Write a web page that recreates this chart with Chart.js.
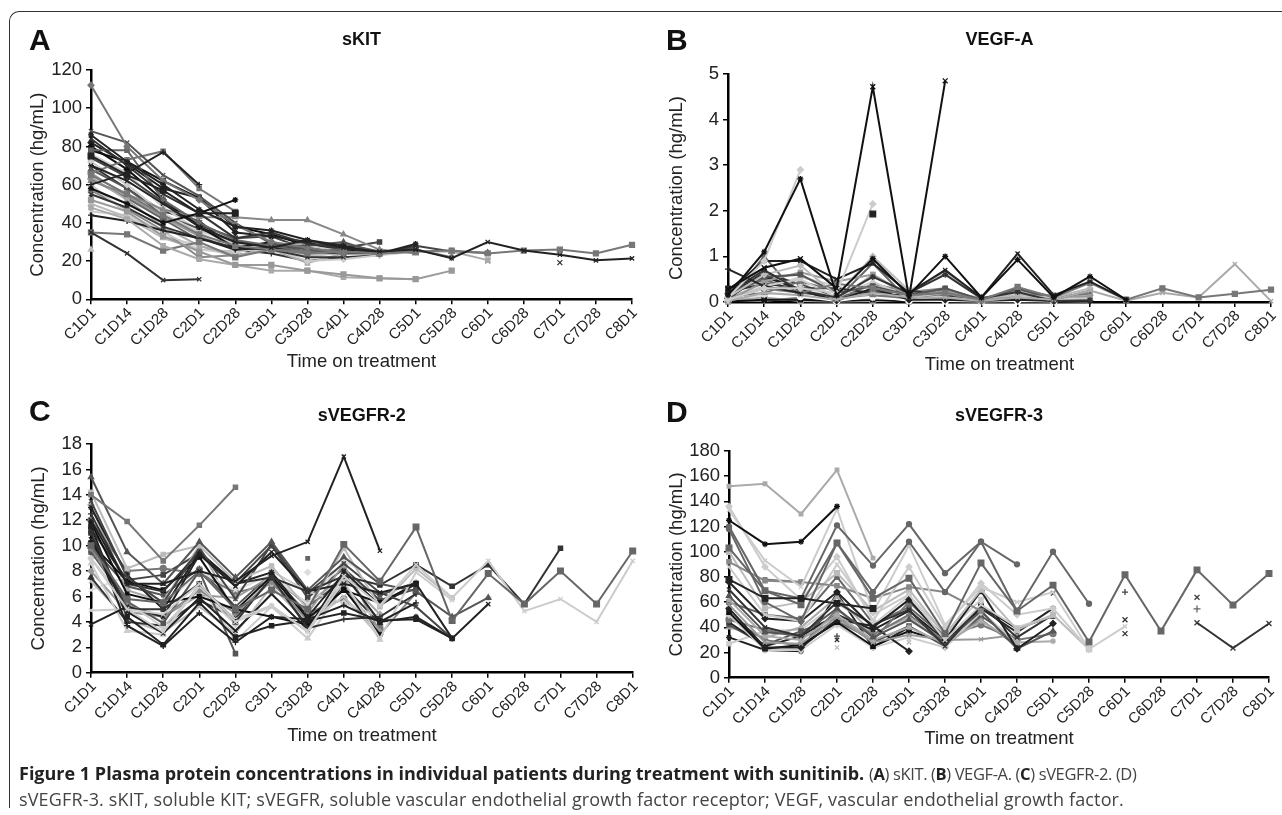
<!DOCTYPE html>
<html><head><meta charset="utf-8">
<style>
html,body{margin:0;padding:0;background:#fff;width:1282px;height:815px;overflow:hidden;position:relative;font-family:"Liberation Sans",Arial,sans-serif}
canvas{position:absolute;filter:blur(0.4px)}
#frame{position:absolute;left:9px;top:11px;width:1300px;height:797px;border-left:1.5px solid #333;border-top:1.5px solid #333;border-top-left-radius:10px;box-sizing:border-box}
.letter{position:absolute;font:bold 30px "Liberation Sans",Arial,sans-serif;color:#111;line-height:30px}
.cap{position:absolute;left:19px;white-space:nowrap;font-family:"Open Sans",sans-serif;color:#444;font-size:18px;line-height:20px;letter-spacing:0.15px}
.cap b{color:#222;letter-spacing:0}
.cap .nar{font-size:16.5px;letter-spacing:-0.37px}
.cap .nar b{letter-spacing:-0.37px}
</style>
<script src="https://cdn.jsdelivr.net/npm/chart.js@4"></script>
</head><body>
<div id="frame"></div>
<canvas id="ca" width="660" height="380" style="left:0;top:10px;width:660px;height:380px"></canvas>
<canvas id="cb" width="660" height="380" style="left:640px;top:10px;width:660px;height:380px"></canvas>
<canvas id="cc" width="660" height="375" style="left:0;top:390px;width:660px;height:375px"></canvas>
<canvas id="cd" width="660" height="375" style="left:640px;top:390px;width:660px;height:375px"></canvas>
<div class="letter" style="left:29px;top:25px">A</div>
<div class="letter" style="left:666px;top:25px">B</div>
<div class="letter" style="left:29px;top:396px">C</div>
<div class="letter" style="left:666px;top:397px">D</div>
<div class="cap" style="top:763px"><b>Figure 1 Plasma protein concentrations in individual patients during treatment with sunitinib.</b> <span class="nar">(<b>A</b>) sKIT. (<b>B</b>) VEGF-A. (<b>C</b>) sVEGFR-2. (D)</span></div>
<div class="cap" style="top:789px">sVEGFR-3. sKIT, soluble KIT; sVEGFR, soluble vascular endothelial growth factor receptor; VEGF, vascular endothelial growth factor.</div>
<script>
const categories=['C1D1','C1D14','C1D28','C2D1','C2D28','C3D1','C3D28','C4D1','C4D28','C5D1','C5D28','C6D1','C6D28','C7D1','C7D28','C8D1'];
const N=null;
// Panel A: sKIT
const a01=[112,80,62,52,39,30,27,24];
const a02=[88,82,65,54,40,29,26,24,24];
const a03=[35,24,10,10.5];
const a04=[35,34,25.5,30,22,26,25,25,24,25];
const a05=[78,78,52,40,31,28,25,26];
const a06=[60,66,77,60];
const a07=[66,73,77.5,58,46];
const a08=[75,65,57,45,45];
const a09=[58,50,40,45,52];
const a10=[44,41,36,32,26,27,25,24];
const a11=[62,55,47,43,43,41.5,41.5,34,26,24];
const a12=[70,62,50,38,30,27,31,27,25,26,21.5,30,25.5,23.3,20.4,21.4];
const a13=[65,55,44,34,28,26,24,25,24,25,25.5,24,25.5,26,24,28.5];
const a14=[52,46,33,25,18,18,15,13,11,10.5,15];
const a15=[48,42,28,21,18,15,15,11.5,11,10.5];
const a16=[86,72,60,47,38,36,31,28,24,29];
const a17=[84,70,55,45,32,35,29,27,24,28];
const a18=[80,68,52,38,27,30,24,26,24];
const a19=[26];
const a20=[55,48,38,32,27,26,22,22];
const a21=[72,60,45,35,25,27,20,21,23,25];
const a22=[64,52,38,28,23,26,19,24,25,25,25,20.5];
const a23=[68,58,44,37,30,28,28,30,24,27];
const a24=[60,45,35,26,24,30,28,25];
const a25=[82,71,58,53,35,33,30,24];
const a26=[74,64,51,39,32,33,26,27,30];
const a27=[57,47,36,22,23,26,30,27,25];
const a28=[50,43,32,26,25,28,23,24];
const a29=[46,44,33,28,22,28,22,25];
const a30=[76,66,48,36,29,27,25,24];
const a31=[63,53,42,31,30,27,27,29,25,26,22];
const a32=[70,58,46,41,26,24,20,22,23];
const a33=[66,54,43,33,26,28,27,24];
const a34=[N,N,N,N,N,N,N,N,N,N,N,20.2,N,19.2];
const a35=[N,N,N,N,N,N,N,N,N,28,25,24.3];
const a36=[78,72,62,53,38,34,28,27];
// Panel B: VEGF-A
const b01=[0.72,0.35,0.2];
const b02=[0.15,1.1,2.7,0.15,0.95,0.15,1.0,0.1,0.93,0.1,0.56,0.05];
const b03=[0.28,0.75,0.95,0.3,4.72,0.1,4.85];
const b04=[0.1,0.9,2.9];
const b05=[0.05,0.3,0.3,0.2,2.15];
const b06=[N,N,N,N,1.93];
const b07=[0.05,0.3,0.2,0.4,0.3,0.15,0.2,0.05,0.33,0.1,0.42,0.05,0.3,0.1,0.18,0.27];
const b08=[0.02,0.2,0.15,0.05,0.2,0.1,0.1,0.02,0.1,0.05,0.25,0.03,0.2,0.1,0.83,0.02];
const b09=[0.25,0.9,0.9,0.5,0.85,0.2,0.7,0.1,1.06,0.15,0.45,0.05];
const b10=[0.2,0.7,0.25,0.1,0.55,0.2,0.6,0.08,0.22,0.02,0.04];
const b11=[0.1,0.6,0.8,0.15,1.0,0.25,0.65,0.1,0.15,0.1,0.3];
const b12=[0.15,0.55,0.6,0.2,0.35,0.15,0.3,0.05,0.3,0.05,0.25];
const b13=[0.02,0.45,0.65,0.45,0.6,0.12,0.25,0.03,0.15,0.15,0.12];
const b14=[0.05,0.35,0.5,0.1,0.45,0.1,0.2,0.06,0.2,0.03,0.08];
const b15=[0.08,0.6,0.25,0.03,0.3,0.05,0.05,0.02,0.05,0.02,0.02];
const b16=[0.12,0.2,0.45,0.25,0.15,0.08,0.18,0.04,0.28,0.12,0.18];
const b17=[0.22,0.4,0.3,0.3,0.2,0.25,0.15,0.07,0.08,0.03];
const b18=[0.03,0.25,0.12,0.02,0.12,0.03,0.02,0.01,0.02,0.01];
const b19=[0.06,0.15,0.35,0.08,0.08,0.06,0.12,0.03,0.1];
const b20=[0.01,0.05,0.05,0.02,0.05,0.01,0.04,0.01,0.03,0.01];
const b21=[0.18,0.5,0.2,0.12,0.25,0.05,0.1,0.02,0.12];
const b22=[0.04,0.1,0.02,0.01,0.02,0.02,0.05,0.02];
const b23=[0.14,0.65,0.38,0.1,0.1,0.18,0.22,0.05];
const b24=[0.02,0.02,0.1,0.03,0.4,0.22,0.3,0.04,0.1,0.06];
const b25=[0.09,0.3,0.55,0.35,0.08,0.02,0.06,0.02,0.06,0.02,0.01];
const b26=[0.3,0.55,0.28,0.02,0.02,0.02,0.28];
const b27=[0.07,0.42,0.42,0.05,0.6,0.16,0.26,0.08,0.25,0.08,0.12];
const b28=[0.01,1.0,0.08,0.05,0.85,0.03];
// Panel C: sVEGFR-2
const c01=[14,11.9,8.8,11.6,14.6];
const c02=[12,7,7,8,7.2,9.2,10.3,17,9.6];
const c03=[10,5.8,5.5,8,5,6.5,5,10.1,7.2,11.46,4.1,7.8,5.4,8,5.4,9.58];
const c04=[9,5,4.6,7,4,5.2,3.3,7.6,5.3,8.5,5.9,8.8,4.85,5.8,4,8.8];
const c05=[11,5,5,7,4,7.5,6.4,7.6,6.9,8.5,6.8,8.5,5.4,9.8];
const c06=[3.8,5.2,4.4,9.3,6.8,9.5,6.4,7,6.3,7,2.7,5.4];
const c07=[4.9,5,3.2,6.8,4.2,5.3,3.2,7.2,2.7,7.9,5.7];
const c08=[15.4,9.5,7,10.3,7.5,10.3,6.5,9.1,7,6.4,4.4,5.9];
const c09=[14.2,8.2,9.3,10,7.2,8.4,5,9.8,5.2,8.2,5.9];
const c10=[13.5,7.5,5.5,9.8,5.8,10.1,6.3,8.6,6.3,5.2,2.7];
const c11=[13,7.7,5,9.5,7,7.9,4.4,7.8,4,4.4,2.7];
const c12=[12.5,7,6.4,9.5,7,7.5,3.5,4.2,4.4,6.2];
const c13=[11.8,6.2,5.5,6,5,4.4,3.8,6.6,3];
const c14=[11.5,4.4,2.2,5.5,2.8,3.7,4.1,4.7,4.1,4.2,2.7];
const c15=[11,3.7,2.1,4.7,2.4,4.4,4.2,5.3,4,5.5];
const c16=[10.5,4.8,3.1,5.9,3.3,6.2,3.4,8,5.3,7];
const c17=[10.2,7.2,6.5,9.1,4.9,7.6,4.3,6.5,5.5,7];
const c18=[9.8,5.3,4.4,6.5,4.7,7.2,4.1,7,3,6.3];
const c19=[9.5,5.6,3.9,8,1.5];
const c20=[9,5.5,3.6,6.6,3.8,8,6.4,5.5,4.4];
const c21=[8.6,3.3,3,7,2.5,5.2,2.7,6.8,2.6];
const c22=[8,4.8,4.4,6.1,5.9,7.6,4.7,8.5,3.2];
const c23=[7.5,4,3.7,5.7,4.3,7.4,3.6,6.8,3.9];
const c24=[7.2,4.2,3.2,5.2,3.1,6.8,3.9,6,2.8];
const c25=[6.5,7.6,5.2,8,6.5,7.7,5.4,8.8,7.2];
const c26=[12,8,8.2,7.8,6.3,7,4.7,5.8,3.5];
const c27=[13.2,6.5,5.6,10,4.6,7.3,5.5,7.5,4.6];
const c28=[N,N,N,N,N,N,9];
const c29=[N,N,N,N,N,N,7.9,N,N,N,N,5.9];
const c30=[10,6.8,6.1,8.2,5.2,7.8,5.2,7.3,6.1,7.1];
const c31=[11.3,7.3,7.7,9.4,7.1,10,5.9,8.2,5.7,6.6];
// Panel D: sVEGFR-3
const d01=[152,154,130,165,95];
const d02=[118,60,45,107,68,108,68,108,53,100,58.7];
const d03=[120,69,63,121,89,122,83,108,90];
const d04=[125,106,108,136];
const d05=[78,63,63,59,55];
const d06=[103,69,58,107,63,79,35,91,53,73.5,28.4,81.7,37,85.6,57.8,82.7];
const d07=[133,93,72,134,52,105,42,72,60,68,22.6,40.7];
const d08=[136,88,62,96,45,88,40,75,50,55,22.6];
const d09=[92,77,76,73,63,72,68,53];
const d10=[100,55,60,83,53,70,34,70,38,50,22.6];
const d11=[88,50,45,90,50,66,30,58,40,49];
const d12=[76,47,45,68,40,62,30,69,23,43];
const d13=[70,40,33,60,42,54,25,58,32,50];
const d14=[65,36,34,55,32,46,28,53,23,37];
const d15=[62,33,30,50,30,40,27,45,28,29];
const d16=[58,28,27,48,28,34,30,30.5,34];
const d17=[55,24,24,46,41,21];
const d18=[52,23,26,44,25,37,28,57,39,49];
const d19=[50,22,22,42,24,32,24,52,28];
const d20=[48,30,25,54,34,50,29,46,25];
const d21=[46,38,32,45,30,60,33,42,30,35];
const d22=[44,25,33,50,38,53,30,55,36,55];
const d23=[42,26,37,48,28,41,25,49,30];
const d24=[40,32,40,64,35,48,26,51];
const d25=[27,37,38,59,42,65,35,62];
const d26=[32,22,21,67,24,40];
const d27=[60,50,47,80,43,56,32,53,25];
const d28=[N,78,76];
const d29=[N,N,N,24,N,28];
const d30=[N,N,N,30,N,N,N,N,N,67];
const d31=[N,N,N,33,N,N,N,N,N,N,N,68];
const d32=[N,N,N,N,N,N,N,N,N,N,N,46,N,63.8];
const d33=[N,N,N,N,N,N,N,N,N,N,N,N,N,54.6];
const d34=[N,N,N,N,N,N,N,N,N,N,N,35,N,43.6,23.6,43];

const yTicksA=[0,20,40,60,80,100,120];
const yTicksB=[0,1,2,3,4,5];
const yTicksC=[0,2,4,6,8,10,12,14,16,18];
const yTicksD=[0,20,40,60,80,100,120,140,160,180];

const K={d:'rectRot',s:'rect',t:'triangle',x:'crossRot',p:'cross',a:'star',o:'circle'};
const tableA=[[a03,'#333','x'],[a08,'#222','s',4],[a09,'#111','a'],[a06,'#222','p'],[a12,'#222','x'],[a13,'#777','s',3.5],[a14,'#999','s',3.5],[a15,'#aaa','s',3],[a16,'#222','a'],[a17,'#333','x'],[a01,'#777','d'],[a02,'#555','x'],[a04,'#777','s',3.5],[a07,'#777','s'],[a05,'#666','s'],[a10,'#222','p'],[a11,'#888','t'],[a18,'#111','d'],[a19,'#bbb','t'],[a20,'#333','x'],[a21,'#ccc','d'],[a22,'#aaa','s'],[a23,'#555','t'],[a24,'#ccc','x'],[a25,'#222','d'],[a26,'#444','s'],[a27,'#888','s',3.5],[a28,'#bbb','t'],[a29,'#ccc','x'],[a30,'#ccc','a'],[a31,'#666','d'],[a32,'#333','p'],[a33,'#999','o'],[a34,'#333','x',3.5],[a35,'#444','t'],[a36,'#111','s']];
const tableB=[[b06,'#222','s',4],[b03,'#111','x',3.5],[b02,'#111','a'],[b04,'#ccc','d'],[b05,'#ccc','d'],[b09,'#222','x'],[b01,'#222','p'],[b07,'#777','s',3.5],[b08,'#aaa','x'],[b10,'#333','a'],[b11,'#bbb','d'],[b12,'#555','s'],[b13,'#999','s'],[b14,'#ccc','t'],[b15,'#222','d'],[b16,'#777','t'],[b17,'#333','x'],[b18,'#fff','o'],[b19,'#ddd','a'],[b20,'#111','s'],[b21,'#666','d'],[b22,'#aaa','o'],[b23,'#333','t'],[b24,'#888','p'],[b25,'#ccc','x'],[b26,'#222','s'],[b27,'#aaa','s'],[b28,'#666','s']];
const tableC=[[c02,'#222','x'],[c28,'#666','s',2.5],[c03,'#666','s',4],[c04,'#ccc','x'],[c05,'#333','s'],[c14,'#222','s'],[c15,'#222','p'],[c01,'#777','s'],[c06,'#222','x'],[c07,'#ccc','x'],[c08,'#555','t'],[c09,'#bbb','s'],[c10,'#444','x'],[c11,'#222','a'],[c12,'#333','p'],[c13,'#111','s',2.5],[c16,'#222','x'],[c17,'#111','s'],[c18,'#888','d'],[c19,'#555','s'],[c20,'#ccc','d'],[c21,'#ccc','t'],[c22,'#999','d'],[c23,'#333','t'],[c24,'#bbb','x'],[c25,'#ddd','x'],[c26,'#777','o'],[c27,'#aaa','d'],[c29,'#ddd','d'],[c30,'#555','a'],[c31,'#444','s']];
const tableD=[[d04,'#111','a'],[d05,'#222','s',4],[d01,'#aaa','s',2.5],[d06,'#666','s',4],[d03,'#666','o',2.5],[d02,'#666','o',2.5],[d07,'#ccc','x'],[d08,'#ccc','d'],[d09,'#888','s'],[d10,'#bbb','s',3.5],[d11,'#ccc','x'],[d12,'#222','d'],[d13,'#333','x'],[d14,'#555','t'],[d15,'#aaa','a'],[d16,'#999','x'],[d17,'#222','d'],[d18,'#111','s'],[d19,'#ccc','d'],[d20,'#777','p'],[d21,'#777','o'],[d22,'#222','a'],[d23,'#555','s'],[d24,'#aaa','t'],[d25,'#ccc','s'],[d26,'#222','a'],[d27,'#666','s'],[d28,'#777','s',2.5],[d29,'#bbb','x'],[d30,'#333','x'],[d31,'#444','p'],[d32,'#333','x',3.5],[d33,'#666','p',3.5],[d34,'#333','x',3.5]];

const FONT='"Liberation Sans",Arial,sans-serif';
function panel(id,title,table,yMax,yStep,g){
  const datasets=table.map(r=>({data:r[0],borderColor:r[1],backgroundColor:r[1],pointBorderColor:r[1],
    pointStyle:K[r[2]],pointRadius:r[3]||3,pointBorderWidth:1.3,borderWidth:2,tension:0,spanGaps:false,clip:false}));
  new Chart(document.getElementById(id),{type:'line',data:{labels:categories,datasets},options:{
    responsive:false,animation:false,devicePixelRatio:1,
    layout:{padding:{left:g.left,right:g.right,top:g.top,bottom:g.bottom}},
    plugins:{legend:{display:false},tooltip:{enabled:false},
      title:{display:true,text:title,fullSize:false,color:'#111',font:{family:FONT,size:18,weight:'bold',lineHeight:1},padding:{top:0,bottom:g.titleGap}}},
    scales:{
      x:{type:'category',offset:false,border:{color:'#000',width:2.5},
        grid:{drawOnChartArea:false,drawTicks:true,tickLength:5,color:'#000',lineWidth:1.5},
        ticks:{autoSkip:false,minRotation:45,maxRotation:45,padding:0,labelOffset:3,color:'#222',font:{family:FONT,size:15}},
        title:{display:true,text:'Time on treatment',color:'#222',font:{family:FONT,size:18.5},padding:{top:0,bottom:0}},
        afterFit:s=>{s.height=g.xH}},
      y:{min:0,max:yMax,border:{color:'#000',width:2.5},
        grid:{drawOnChartArea:false,drawTicks:true,tickLength:5,color:'#000',lineWidth:1.5},
        ticks:{autoSkip:false,stepSize:yStep,padding:4,color:'#222',font:{family:FONT,size:18.5}},
        title:{display:true,text:'Concentration (hg/mL)',color:'#222',font:{family:FONT,size:18.5},padding:{top:0,bottom:0}},
        afterFit:s=>{s.width=g.yW}}
    }}});
}
panel('ca','sKIT',tableA,yTicksA[yTicksA.length-1],20,{left:26.5,right:28,top:21,bottom:17,titleGap:21,xH:73.7,yW:64.5});
panel('cb','VEGF-A',tableB,yTicksB[yTicksB.length-1],1,{left:25.5,right:29,top:21,bottom:14,titleGap:25,xH:74,yW:62.5});
panel('cc','sVEGFR-2',tableC,yTicksC[yTicksC.length-1],2,{left:27.5,right:27.3,top:17,bottom:18,titleGap:19,xH:74.3,yW:63.5});
panel('cd','sVEGFR-3',tableD,yTicksD[yTicksD.length-1],20,{left:25.5,right:31,top:17,bottom:15,titleGap:26,xH:72.3,yW:63.5});
</script>
</body></html>
